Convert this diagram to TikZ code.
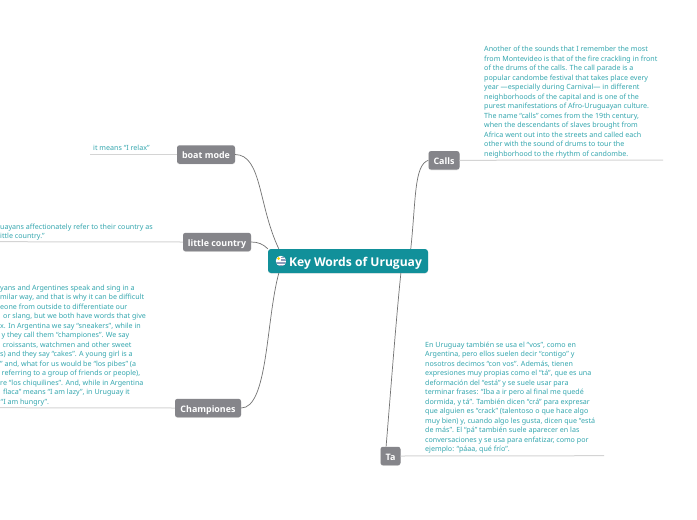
\documentclass[tikz,border=0pt]{standalone}
\usepackage{fontspec}
\setmainfont{Noto Sans}
\newfontfamily\headfont{Open Sans}
\usetikzlibrary{shadows}
\definecolor{tealroot}{HTML}{11909A}
\definecolor{graytopic}{HTML}{85858A}
\definecolor{tealnote}{HTML}{35A7AF}
\definecolor{grayrule}{HTML}{D4D4D4}
\definecolor{flagblue}{HTML}{8E9DBD}
\begin{document}
\begin{tikzpicture}[x=1pt, y=-1pt,
  root/.style={fill=tealroot, rounded corners=3pt, minimum width=160pt, minimum height=24pt, inner sep=0pt, text height=10pt, text depth=0pt, text=white, font=\headfont\bfseries\fontsize{12.1}{14}\selectfont, drop shadow={opacity=0.2, shadow xshift=0pt, shadow yshift=-0.7pt}},
  topic/.style={fill=graytopic, rounded corners=2.5pt, minimum height=18.5pt, inner sep=0pt, text height=8.2pt, text depth=0pt, text=white, font=\headfont\bfseries\fontsize{8.9}{10}\selectfont, drop shadow={opacity=0.2, shadow xshift=0pt, shadow yshift=-0.7pt}},
  note/.style={anchor=north west, align=left, inner sep=0pt, text=tealnote, font=\fontsize{7.13}{9.5}\selectfont},
  branch/.style={draw=gray!90!black, line width=0.7pt},
  under/.style={draw=grayrule, line width=1pt}]
\fill[white] (0,0) rectangle (697,520);
\useasboundingbox (0,0) rectangle (697,520);
\node[root] (uruguay) at (348,261) {\hspace*{15pt}Key Words of Uruguay};
\node[topic, minimum width=58pt] (boat) at (206,154.5) {boat mode};
\node[topic, minimum width=68pt] (little) at (217,242) {little country};
\node[topic, minimum width=66pt] (champ) at (208,408) {Championes};
\node[topic, minimum width=31pt] (calls) at (444,160.3) {Calls};
\node[topic, minimum width=20pt] (ta) at (390.5,456) {Ta};
% flag
\begin{scope}
\clip (281,261) circle (5.2);
\fill[white] (275,255) rectangle (287,267);
\fill[flagblue] (275,256.6) rectangle (287,258);
\fill[flagblue] (275,259.4) rectangle (287,260.8);
\fill[flagblue] (275,262.2) rectangle (287,263.6);
\fill[flagblue] (275,265) rectangle (287,266.4);
\fill[white] (275,255) rectangle (281,261);
\fill[yellow!70!orange] (278.6,258.4) circle (1.5);
\end{scope}
% branches
\draw[branch] (boat.east) .. controls (262,155) and (258,205) .. (uruguay.170);
\draw[branch] (little.east) .. controls (258,242) and (263,244) .. (uruguay.north west);
\draw[branch] (champ.east) .. controls (268,408) and (266,320) .. (uruguay.190);
\draw[branch] (calls.west) .. controls (414,165) and (416,200) .. (uruguay.11);
\draw[branch] (ta.115) .. controls (390,400) and (396,320) .. (uruguay.-13);
% rules
\coordinate (boatend) at (90,154.5);
\coordinate (littleend) at (0,241.7);
\coordinate (champend) at (0,407.7);
\coordinate (callsend) at (663,160);
\coordinate (taend) at (604,455.7);
\draw[under] (boat.west) -- (boatend);
\draw[under] (little.west) -- (littleend);
\draw[under] (champ.west) -- (champend);
\draw[under] (calls.east) -- (callsend);
\draw[under] (ta.east) -- (taend);
% notes
\node[note] (boatnote) at (93,144.7) {it means “I relax”};
\node[note] (littlenote) at (0,223.5) {uayans affectionately refer to their country as\\ittle country.”};
\node[note] (champnote) at (0,284.5) {yans and Argentines speak and sing in a\\
milar way, and that is why it can be difficult\\
eone from outside to differentiate our\\
\hspace*{3pt}or slang, but we both have words that give\\
x. In Argentina we say “sneakers”, while in\\
\hspace*{1.5pt}y they call them “championes”. We say\\
\hspace*{2.5pt}croissants, watchmen and other sweet\\
s) and they say “cakes”. A young girl is a\\
” and, what for us would be “los pibes” (a\\
\hspace*{1.5pt}referring to a group of friends or people),\\
re “los chiquilines”. And, while in Argentina\\
\hspace*{3pt}flaca” means “I am lazy”, in Uruguay it\\
\hspace*{0.5pt}“I am hungry”.};
\node[note] (callsnote) at (484,46) {Another of the sounds that I remember the most\\
from Montevideo is that of the fire crackling in front\\
of the drums of the calls. The call parade is a\\
popular candombe festival that takes place every\\
year —especially during Carnival— in different\\
neighborhoods of the capital and is one of the\\
purest manifestations of Afro-Uruguayan culture.\\
The name “calls” comes from the 19th century,\\
when the descendants of slaves brought from\\
Africa went out into the streets and called each\\
other with the sound of drums to tour the\\
neighborhood to the rhythm of candombe.};
\node[note] (tanote) at (425,341.5) {En Uruguay también se usa el “vos”, como en\\
Argentina, pero ellos suelen decir “contigo” y\\
nosotros decimos “con vos”. Además, tienen\\
expresiones muy propias como el “tá”, que es una\\
deformación del “está” y se suele usar para\\
terminar frases: “Iba a ir pero al final me quedé\\
dormida, y tá”. También dicen “crá” para expresar\\
que alguien es “crack” (talentoso o que hace algo\\
muy bien) y, cuando algo les gusta, dicen que “está\\
de más”. El “pá” también suele aparecer en las\\
conversaciones y se usa para enfatizar, como por\\
ejemplo: “páaa, qué frío”.};
\end{tikzpicture}
\end{document}
